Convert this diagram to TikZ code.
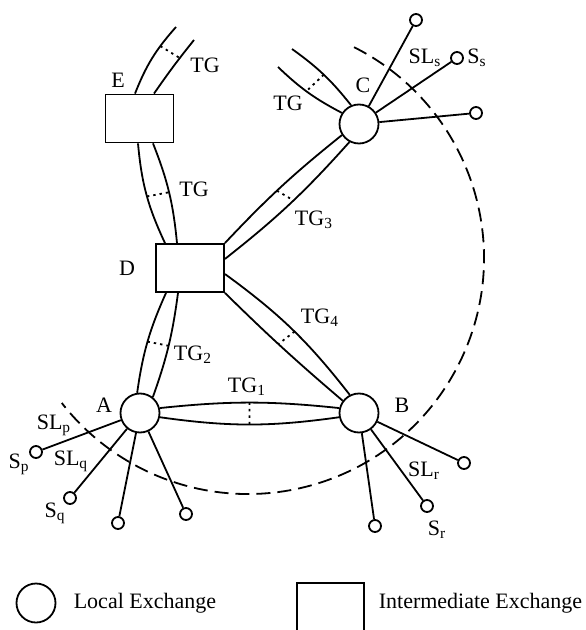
\documentclass[tikz,border=0pt]{standalone}
\usepackage{fontspec}
\setmainfont{Liberation Serif}
\usetikzlibrary{positioning,calc}

\begin{document}
\begin{tikzpicture}[x=0.5pt, y=-0.5pt, line width=0.9pt,
  local/.style={draw, circle, minimum size=19.5pt, inner sep=0pt},
  inter/.style={draw, rectangle, minimum width=34pt, minimum height=24pt, inner sep=0pt},
  subs/.style={draw, circle, minimum size=6pt, inner sep=0pt},
  tgmark/.style={line width=0.9pt, dash pattern=on 1.2pt off 2pt},
  zone/.style={line width=0.9pt, dash pattern=on 7pt off 3.5pt},
  lbl/.style={inner sep=0pt, font=\fontsize{11}{13}\selectfont}
]
  \useasboundingbox (0,0) rectangle (585,630);

  % exchanges
  \node[local] (A) at (140,413) {};
  \node[local] (B) at (359,413) {};
  \node[local] (C) at (359,124) {};
  \node[inter] (D) at (190,268) {};
  \node[inter] (E) at (139.5,118.5) {};

  \node[lbl] (lA) at (104,405) {A};
  \node[lbl] (lB) at (402,405) {B};
  \node[lbl] (lC) at (363,85) {C};
  \node[lbl] (lD) at (127,268) {D};
  \node[lbl] (lE) at (118,80) {E};

  % free ends of the outgoing trunk groups
  \coordinate (eu1) at (176,27);
  \coordinate (eu2) at (194,40);
  \coordinate (cu1) at (292,49);
  \coordinate (cu2) at (278,67);

  % trunk groups
  \draw ($(E.north)+(-4.5,0)$) to[bend left=10] coordinate[pos=.7] (tge1) (eu1);
  \draw ($(E.north)+(14.5,0)$) to[bend left=2] coordinate[pos=.67] (tge2) (eu2);
  \draw[tgmark] (tge1) -- (tge2);

  \draw ($(E.south)+(-1.5,0)$) to[bend right=10] coordinate[pos=.52] (tged1) ($(D.north)+(-25,0)$);
  \draw ($(E.south)+(13.5,0)$) to[bend left=8] coordinate[pos=.5] (tged2) ($(D.north)+(-13,0)$);
  \draw[tgmark] (tged1) -- (tged2);

  \draw (cu1) to[bend left=8] coordinate[pos=.5] (tgc1) (C.113);
  \draw (cu2) to[bend right=8] coordinate[pos=.47] (tgc2) (C.147);
  \draw[tgmark] (tgc1) -- (tgc2);

  \draw (A.14) to[bend left=6] coordinate[pos=.5] (tg1a) (B.166);
  \draw (A.-12) to[bend right=8] coordinate[pos=.5] (tg1b) (B.192);
  \draw[tgmark] (tg1a) -- (tg1b);

  \draw (A.98) to[bend left=8] coordinate[pos=.5] (tg2a) ($(D.south)+(-24,0)$);
  \draw (A.51) to[bend right=6] coordinate[pos=.5] (tg2b) ($(D.south)+(-12,0)$);
  \draw[tgmark] (tg2a) -- (tg2b);

  \draw (D.north east) to[bend left=4] coordinate[pos=.46] (tg3a) (C.213);
  \draw ($(D.east)+(0,-9)$) to[bend right=5] coordinate[pos=.53] (tg3b) (C.242);
  \draw[tgmark] (tg3a) -- (tg3b);

  \draw ($(D.east)+(0,6)$) to[bend left=8] coordinate[pos=.52] (tg4a) (B.117);
  \draw (D.south east) to[bend right=2] coordinate[pos=.46] (tg4b) (B.143);
  \draw[tgmark] (tg4a) -- (tg4b);

  \node[lbl] (lTGe) at (205,65) {TG};
  \node[lbl] (lTGed) at (194,189) {TG};
  \node[lbl] (lTGc) at (288,103) {TG};
  \node[lbl] (lTG1) at (247,387) {TG\textsubscript{1}};
  \node[lbl] (lTG2) at (193,355) {TG\textsubscript{2}};
  \node[lbl] (lTG3) at (314,220) {TG\textsubscript{3}};
  \node[lbl] (lTG4) at (320,318) {TG\textsubscript{4}};

  % subscribers
  \node[subs] (sp) at (36,452) {};
  \node[subs] (sq) at (70,498) {};
  \node[subs] (sa3) at (118,523) {};
  \node[subs] (sa4) at (186,514) {};
  \node[subs] (sb1) at (464,463) {};
  \node[subs] (sr) at (427,506) {};
  \node[subs] (sb3) at (375,526) {};
  \node[subs] (sc1) at (416,20) {};
  \node[subs] (ss) at (457,58) {};
  \node[subs] (sc3) at (476,113) {};

  \draw (A) -- (sp);
  \draw (A) -- (sq);
  \draw (A) -- (sa3);
  \draw (A) -- (sa4);
  \draw (B) -- (sb1);
  \draw (B) -- (sr);
  \draw (B) -- (sb3);
  \draw (C) -- (sc1);
  \draw (C) -- (ss);
  \draw (C) -- (sc3);

  \node[lbl] (lSLp) at (54,425) {SL\textsubscript{p}};
  \node[lbl] (lSp) at (19,464) {S\textsubscript{p}};
  \node[lbl] (lSLq) at (71,461) {SL\textsubscript{q}};
  \node[lbl] (lSq) at (55,513) {S\textsubscript{q}};
  \node[lbl] (lSLr) at (424,471) {SL\textsubscript{r}};
  \node[lbl] (lSr) at (437,530) {S\textsubscript{r}};
  \node[lbl] (lSLs) at (425,58) {SL\textsubscript{s}};
  \node[lbl] (lSs) at (477,58) {S\textsubscript{s}};

  % boundary
  \coordinate (ctr) at (248,258);
  \draw[zone] ($(ctr)+(-63.3:236)$) arc[start angle=-63.3, end angle=142.1, radius=236];

  % legend
  \node[local] (lgloc) at (36,603) {};
  \node[lbl, right=8.25pt of lgloc] (lgloctxt) {Local Exchange};
  \node[inter, minimum width=33.5pt, minimum height=25pt] (lgint) at (330.5,608) {};
  \node[lbl, anchor=west] (lginttxt) at ($(lgint.east |- lgloctxt)+(13,0)$) {Intermediate Exchange};
\end{tikzpicture}
\end{document}
